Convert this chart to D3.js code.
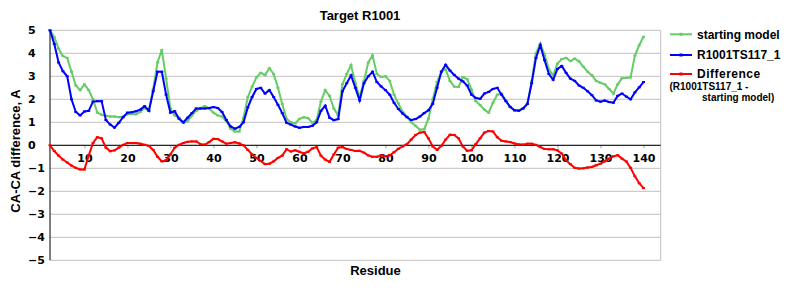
<!DOCTYPE html>
<html>
<head>
<title>Target R1001</title>
<style>
body {
	margin: 0;
	background: #ffffff;
}
svg text {
	font-family: "Liberation Sans", Arial, sans-serif;
	font-weight: bold;
	fill: #000000;
}
.tick text {
	font-family: "DejaVu Sans", Verdana, sans-serif;
	font-size: 11px;
	font-weight: bold;
}
</style>
<script src="https://cdn.jsdelivr.net/npm/d3@7"></script>
</head>
<body>
<svg id="chart" width="800" height="300"></svg>
<script>
// residues 2..140
var firstResidue = 2;

var startingModel = [
	5.0, 4.7, 4.2, 3.88, 3.8, 3.2, 2.6, 2.4, 2.65, 2.4,
	2.0, 1.42, 1.33, 1.28, 1.25, 1.25, 1.22, 1.25, 1.35, 1.36,
	1.35, 1.45, 1.62, 1.5, 2.45, 3.6, 4.15, 2.9, 1.6, 1.3,
	1.2, 0.97, 1.05, 1.3, 1.5, 1.62, 1.7, 1.6, 1.42, 1.3,
	1.25, 1.05, 0.72, 0.6, 0.6, 1.2, 2.1, 2.55, 2.95, 3.15,
	3.05, 3.35, 3.1, 2.5, 1.8, 1.15, 1.0, 0.95, 1.15, 1.22,
	1.18, 0.98, 1.1, 1.9, 2.4, 2.15, 1.6, 1.3, 2.65, 3.1,
	3.48, 2.7, 2.1, 2.8, 3.6, 3.91, 3.1, 2.97, 3.0, 2.8,
	2.2, 1.82, 1.45, 1.25, 1.0, 0.85, 0.68, 0.7, 1.16, 2.0,
	2.75, 3.2, 3.3, 2.8, 2.55, 2.54, 2.97, 2.88, 2.42, 1.92,
	1.75, 1.55, 1.42, 1.85, 2.2, 2.25, 1.95, 1.65, 1.52, 1.53,
	1.6, 1.8, 2.8, 4.0, 4.42, 3.95, 3.3, 3.04, 3.55, 3.75,
	3.8, 3.66, 3.77, 3.65, 3.42, 3.2, 3.05, 2.8, 2.72, 2.65,
	2.45, 2.25, 2.65, 2.92, 2.93, 2.95, 3.9, 4.35, 4.72
];

var ts117 = [
	5.0, 4.4, 3.6, 3.22, 3.0, 2.0, 1.45, 1.3, 1.47, 1.5,
	1.9, 1.92, 1.92, 1.1, 0.9, 0.77, 0.98, 1.22, 1.42, 1.44,
	1.48, 1.55, 1.7, 1.5, 2.35, 3.2, 3.2, 2.2, 1.42, 1.48,
	1.15, 1.0, 1.2, 1.4, 1.6, 1.6, 1.6, 1.62, 1.66, 1.62,
	1.45, 1.1, 0.82, 0.72, 0.8, 1.0, 1.65, 2.1, 2.45, 2.5,
	2.25, 2.4, 2.1, 1.76, 1.4, 0.98, 0.9, 0.82, 0.76, 0.8,
	0.8, 0.85, 1.0, 1.5, 1.72, 1.2, 1.09, 1.14, 2.35, 2.7,
	3.04, 2.5, 1.95, 2.7, 3.0, 3.2, 2.75, 2.56, 2.4, 2.2,
	1.85, 1.58, 1.38, 1.22, 1.1, 1.14, 1.25, 1.4, 1.52, 1.8,
	2.5, 3.2, 3.5, 3.25, 3.06, 2.9, 2.78, 2.6, 2.2, 2.06,
	2.02, 2.25, 2.32, 2.45, 2.5, 2.2, 1.92, 1.67, 1.52, 1.5,
	1.6, 1.8, 2.7, 3.8, 4.35, 3.7, 3.1, 2.85, 3.32, 3.45,
	3.15, 2.9, 2.8, 2.6, 2.5, 2.35, 2.18, 1.95, 1.9, 1.95,
	1.88, 1.85, 2.15, 2.25, 2.12, 2.0, 2.3, 2.52, 2.75
];

var difference = [
	0.0, -0.25, -0.45, -0.62, -0.75, -0.88, -0.98, -1.05, -1.05, -0.45,
	0.1, 0.35, 0.3, -0.1, -0.26, -0.22, -0.1, 0.02, 0.1, 0.1,
	0.1, 0.07, 0.02, -0.03, -0.2, -0.5, -0.7, -0.65, -0.4, -0.1,
	0.02, 0.1, 0.15, 0.17, 0.17, 0.05, 0.03, 0.14, 0.28, 0.27,
	0.17, 0.07, 0.1, 0.13, 0.08, 0.0, -0.2, -0.4, -0.55, -0.68,
	-0.82, -0.8, -0.7, -0.55, -0.45, -0.17, -0.27, -0.22, -0.28, -0.35,
	-0.28, -0.14, -0.08, -0.45, -0.62, -0.72, -0.4, -0.1, -0.08, -0.16,
	-0.2, -0.25, -0.24, -0.32, -0.44, -0.5, -0.5, -0.44, -0.48, -0.44,
	-0.3, -0.15, -0.05, 0.05, 0.25, 0.45, 0.55, 0.58, 0.3, -0.05,
	-0.2, -0.02, 0.25, 0.46, 0.45, 0.3, -0.05, -0.24, -0.22, 0.05,
	0.3, 0.55, 0.62, 0.6, 0.35, 0.2, 0.17, 0.14, 0.08, 0.04,
	0.03, 0.07, 0.07, 0.02, -0.08, -0.16, -0.17, -0.17, -0.22, -0.36,
	-0.65, -0.82, -0.98, -1.01, -1.0, -0.97, -0.94, -0.87, -0.8, -0.7,
	-0.58, -0.48, -0.43, -0.58, -0.7, -0.98, -1.35, -1.65, -1.86
];

var xTicks = [10, 20, 30, 40, 50, 60, 70, 80, 90, 100, 110, 120, 130, 140];
var yTicks = [-5, -4, -3, -2, -1, 0, 1, 2, 3, 4, 5];

var seriesNames = ["starting model", "R1001TS117_1", "Difference"];
var seriesColors = ["#66cc66", "#0000ff", "#ff0000"];

var svg = d3.select("#chart");
var plotLeft = 50, plotRight = 660.7, plotTop = 30.3, plotBottom = 260.3;

var x = d3.scaleLinear().domain([2, 144]).range([plotLeft, plotRight]);
var y = d3.scaleLinear().domain([-5, 5]).range([plotBottom, plotTop]);

// gridlines
svg.append("g")
	.selectAll("line")
	.data(yTicks)
	.enter().append("line")
	.attr("x1", plotLeft)
	.attr("x2", plotRight)
	.attr("y1", function(d) { return y(d); })
	.attr("y2", function(d) { return y(d); })
	.attr("stroke", "#c0c0c0")
	.attr("stroke-width", 1);

// right border
svg.append("line")
	.attr("x1", plotRight).attr("x2", plotRight)
	.attr("y1", plotTop).attr("y2", plotBottom)
	.attr("stroke", "#c0c0c0");

// y axis labels (left aligned like the original)
svg.append("g")
	.selectAll("text")
	.data(yTicks)
	.enter().append("text")
	.attr("x", 28)
	.attr("y", function(d) { return y(d) + 4; })
	.style("font-family", "'DejaVu Sans', Verdana, sans-serif")
	.style("font-size", "11px")
	.text(function(d) { return d < 0 ? "\u2212" + Math.abs(d) : d; });

// x axis on zero line
var xAxis = d3.axisBottom(x)
	.tickValues(xTicks)
	.tickSize(3)
	.tickPadding(6)
	.tickFormat(d3.format("d"));
var gx = svg.append("g")
	.attr("transform", "translate(0," + y(0) + ")")
	.call(xAxis);
gx.select(".domain").remove();
gx.selectAll(".tick line").attr("stroke", "#a0a0a0");

svg.append("line")
	.attr("x1", plotLeft).attr("x2", plotRight)
	.attr("y1", y(0)).attr("y2", y(0))
	.attr("stroke", "#000000");

// y axis line
svg.append("line")
	.attr("x1", plotLeft).attr("x2", plotLeft)
	.attr("y1", plotTop).attr("y2", plotBottom)
	.attr("stroke", "#000000");

// series, with small dash markers at each residue
var allSeries = [startingModel, ts117, difference];
var line = d3.line()
	.x(function(d, i) { return x(firstResidue + i); })
	.y(function(d) { return y(d); });

allSeries.forEach(function(data, k) {
	svg.append("path")
		.datum(data)
		.attr("d", line)
		.attr("fill", "none")
		.attr("stroke", seriesColors[k])
		.attr("stroke-width", 2);
	svg.append("g")
		.selectAll("rect")
		.data(data)
		.enter().append("rect")
		.attr("x", function(d, i) { return x(firstResidue + i) - 1.5; })
		.attr("y", function(d) { return y(d) - 1; })
		.attr("width", 3)
		.attr("height", 2)
		.attr("fill", seriesColors[k]);
});

// title + axis titles
svg.append("text")
	.attr("x", 360).attr("y", 19.5)
	.attr("text-anchor", "middle")
	.style("font-size", "13px")
	.text("Target R1001");

svg.append("text")
	.attr("x", 375.5).attr("y", 274.5)
	.attr("text-anchor", "middle")
	.style("font-size", "13px")
	.text("Residue");

svg.append("text")
	.attr("transform", "translate(20,151) rotate(-90)")
	.attr("text-anchor", "middle")
	.style("font-size", "13px")
	.text("CA-CA difference, A");

// legend
var legendY = [34.3, 55, 74];
var legend = svg.append("g");
seriesNames.forEach(function(name, k) {
	legend.append("line")
		.attr("x1", 670).attr("x2", 692)
		.attr("y1", legendY[k]).attr("y2", legendY[k])
		.attr("stroke", seriesColors[k])
		.attr("stroke-width", 2);
	legend.append("rect")
		.attr("x", 679.5).attr("y", legendY[k] - 1.5)
		.attr("width", 3).attr("height", 3)
		.attr("fill", seriesColors[k]);
	legend.append("text")
		.attr("x", 697)
		.attr("y", legendY[k] + 4.3)
		.style("font-size", "12px")
		.style("letter-spacing", k == 2 ? "0.5px" : "0px")
		.text(name);
});
legend.append("text")
	.attr("x", 669.5).attr("y", 89.5)
	.style("font-size", "10px")
	.text("(R1001TS117_1 -");
legend.append("text")
	.attr("x", 702).attr("y", 101)
	.style("font-size", "10px")
	.text("starting model)");
</script>
</body>
</html>
